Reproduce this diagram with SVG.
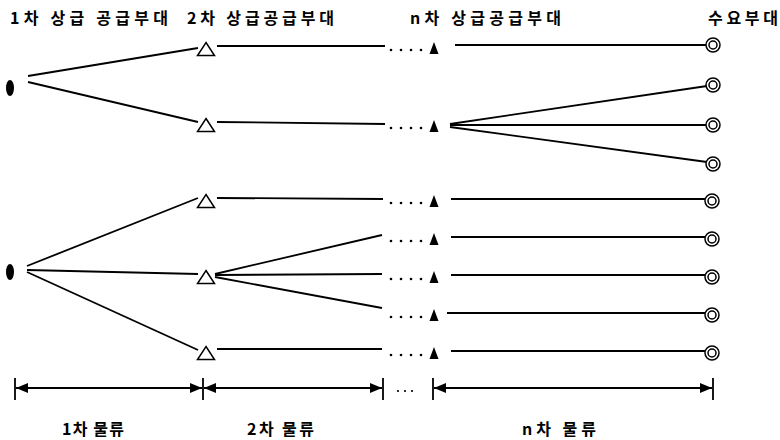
<svg xmlns="http://www.w3.org/2000/svg" width="780" height="440" viewBox="0 0 780 440">
<defs>
<style>
.t{font-family:"Noto Sans CJK KR","Noto Sans",sans-serif;font-size:16px;font-weight:bold;fill:#000}
.ln{stroke:#000;stroke-width:1.8;fill:none}
.dot{fill:#000}
.ot{fill:#fff;stroke:#000;stroke-width:1.5}
.ft{fill:#000}
.dc{fill:#fff;stroke:#000;stroke-width:1.5}
</style>
<g id="tri-open"><polygon class="ot" points="0,-6.5 8.5,6.5 -8.5,6.5"/></g>
<g id="tri-fill"><polygon class="ft" points="0,-6 4.5,6 -4.5,6"/></g>
<g id="dcirc"><circle class="dc" r="7"/><circle class="dc" r="4"/></g>
<g id="dots"><circle class="dot" cx="0" cy="0" r="1.3"/><circle class="dot" cx="10" cy="0" r="1.3"/><circle class="dot" cx="20" cy="0" r="1.3"/><circle class="dot" cx="30" cy="0" r="1.3"/></g>
<marker id="ah" viewBox="0 0 12 10" refX="12" refY="5" markerWidth="12" markerHeight="10" markerUnits="userSpaceOnUse" orient="auto-start-reverse"><path d="M0,0 L12,5 L0,10 z" fill="#000"/></marker>
</defs>
<rect width="780" height="440" fill="#fff"/>

<g id="labels">
<text class="t" x="10" y="24" textLength="158" lengthAdjust="spacing">1차 상급 공급부대</text>
<text class="t" x="187" y="24" textLength="147" lengthAdjust="spacing">2차 상급공급부대</text>
<text class="t" x="410" y="24" textLength="151" lengthAdjust="spacing">n차 상급공급부대</text>
<text class="t" x="708" y="24" textLength="70" lengthAdjust="spacing">수요부대</text>
<text class="t" x="62" y="435" textLength="62" lengthAdjust="spacing">1차 물류</text>
<text class="t" x="247" y="435" textLength="67" lengthAdjust="spacing">2차 물류</text>
<text class="t" x="522" y="435" textLength="74" lengthAdjust="spacing">n차 물류</text>
</g>

<g id="connectors">
<line class="ln" x1="28" y1="76" x2="198" y2="48"/>
<line class="ln" x1="28" y1="82" x2="198" y2="122"/>
<line class="ln" x1="27" y1="266" x2="198" y2="198"/>
<line class="ln" x1="27" y1="270" x2="198" y2="274"/>
<line class="ln" x1="27" y1="272" x2="198" y2="350"/>
<line class="ln" x1="217" y1="46" x2="385" y2="46"/>
<line class="ln" x1="217" y1="122" x2="385" y2="124"/>
<line class="ln" x1="217" y1="198" x2="383" y2="199"/>
<line class="ln" x1="215" y1="274" x2="382" y2="235"/>
<line class="ln" x1="215" y1="275" x2="382" y2="274"/>
<line class="ln" x1="215" y1="277" x2="382" y2="308"/>
<line class="ln" x1="217" y1="349" x2="382" y2="349"/>
<line class="ln" x1="455" y1="45" x2="706" y2="45"/>
<line class="ln" x1="450" y1="124" x2="707" y2="86"/>
<line class="ln" x1="450" y1="125" x2="706" y2="125"/>
<line class="ln" x1="450" y1="127" x2="707" y2="162"/>
<line class="ln" x1="451" y1="199" x2="705" y2="199"/>
<line class="ln" x1="451" y1="237" x2="705" y2="237"/>
<line class="ln" x1="451" y1="275" x2="705" y2="275"/>
<line class="ln" x1="447" y1="313" x2="705" y2="313"/>
<line class="ln" x1="451" y1="351" x2="705" y2="351"/>
</g>

<g id="sources">
<g id="src1"><ellipse cx="10" cy="88" rx="4" ry="8" fill="#000"/></g>
<g id="src2"><ellipse cx="10" cy="272" rx="4" ry="8" fill="#000"/></g>
</g>

<g id="tier2">
<g id="t2a"><use href="#tri-open" x="206" y="49"/></g>
<g id="t2b"><use href="#tri-open" x="206" y="125"/></g>
<g id="t2c"><use href="#tri-open" x="206" y="201"/></g>
<g id="t2d"><use href="#tri-open" x="206" y="277"/></g>
<g id="t2e"><use href="#tri-open" x="206" y="353"/></g>
</g>

<g id="dotrows">
<use href="#dots" x="391" y="50"/>
<use href="#dots" x="391" y="128"/>
<use href="#dots" x="391" y="203"/>
<use href="#dots" x="391" y="241"/>
<use href="#dots" x="391" y="279"/>
<use href="#dots" x="391" y="317"/>
<use href="#dots" x="391" y="355"/>
</g>

<g id="tierN">
<g id="tna"><use href="#tri-fill" x="434" y="48"/></g>
<g id="tnb"><use href="#tri-fill" x="434" y="126"/></g>
<g id="tnc"><use href="#tri-fill" x="434" y="201"/></g>
<g id="tnd"><use href="#tri-fill" x="434" y="239"/></g>
<g id="tne"><use href="#tri-fill" x="434" y="277"/></g>
<g id="tnf"><use href="#tri-fill" x="434" y="315"/></g>
<g id="tng"><use href="#tri-fill" x="434" y="353"/></g>
</g>

<g id="demand">
<g id="d1"><use href="#dcirc" x="713" y="45"/></g>
<g id="d2"><use href="#dcirc" x="713" y="85"/></g>
<g id="d3"><use href="#dcirc" x="713" y="125"/></g>
<g id="d4"><use href="#dcirc" x="713" y="164"/></g>
<g id="d5"><use href="#dcirc" x="712" y="201"/></g>
<g id="d6"><use href="#dcirc" x="712" y="239"/></g>
<g id="d7"><use href="#dcirc" x="712" y="277"/></g>
<g id="d8"><use href="#dcirc" x="712" y="315"/></g>
<g id="d9"><use href="#dcirc" x="712" y="353"/></g>
</g>

<g id="axis">
<line class="ln" x1="15" y1="378" x2="15" y2="400"/>
<line class="ln" x1="203" y1="378" x2="203" y2="400"/>
<line class="ln" x1="383" y1="378" x2="383" y2="400"/>
<line class="ln" x1="433" y1="378" x2="433" y2="400"/>
<line class="ln" x1="713" y1="378" x2="713" y2="400"/>
<line class="ln" x1="16" y1="388" x2="202" y2="388" marker-start="url(#ah)" marker-end="url(#ah)"/>
<line class="ln" x1="204" y1="388" x2="382" y2="388" marker-start="url(#ah)" marker-end="url(#ah)"/>
<line class="ln" x1="434" y1="388" x2="712" y2="388" marker-start="url(#ah)" marker-end="url(#ah)"/>
<circle class="dot" cx="398" cy="391" r="1.1"/>
<circle class="dot" cx="405" cy="391" r="1.1"/>
<circle class="dot" cx="412" cy="391" r="1.1"/>
</g>
</svg>
